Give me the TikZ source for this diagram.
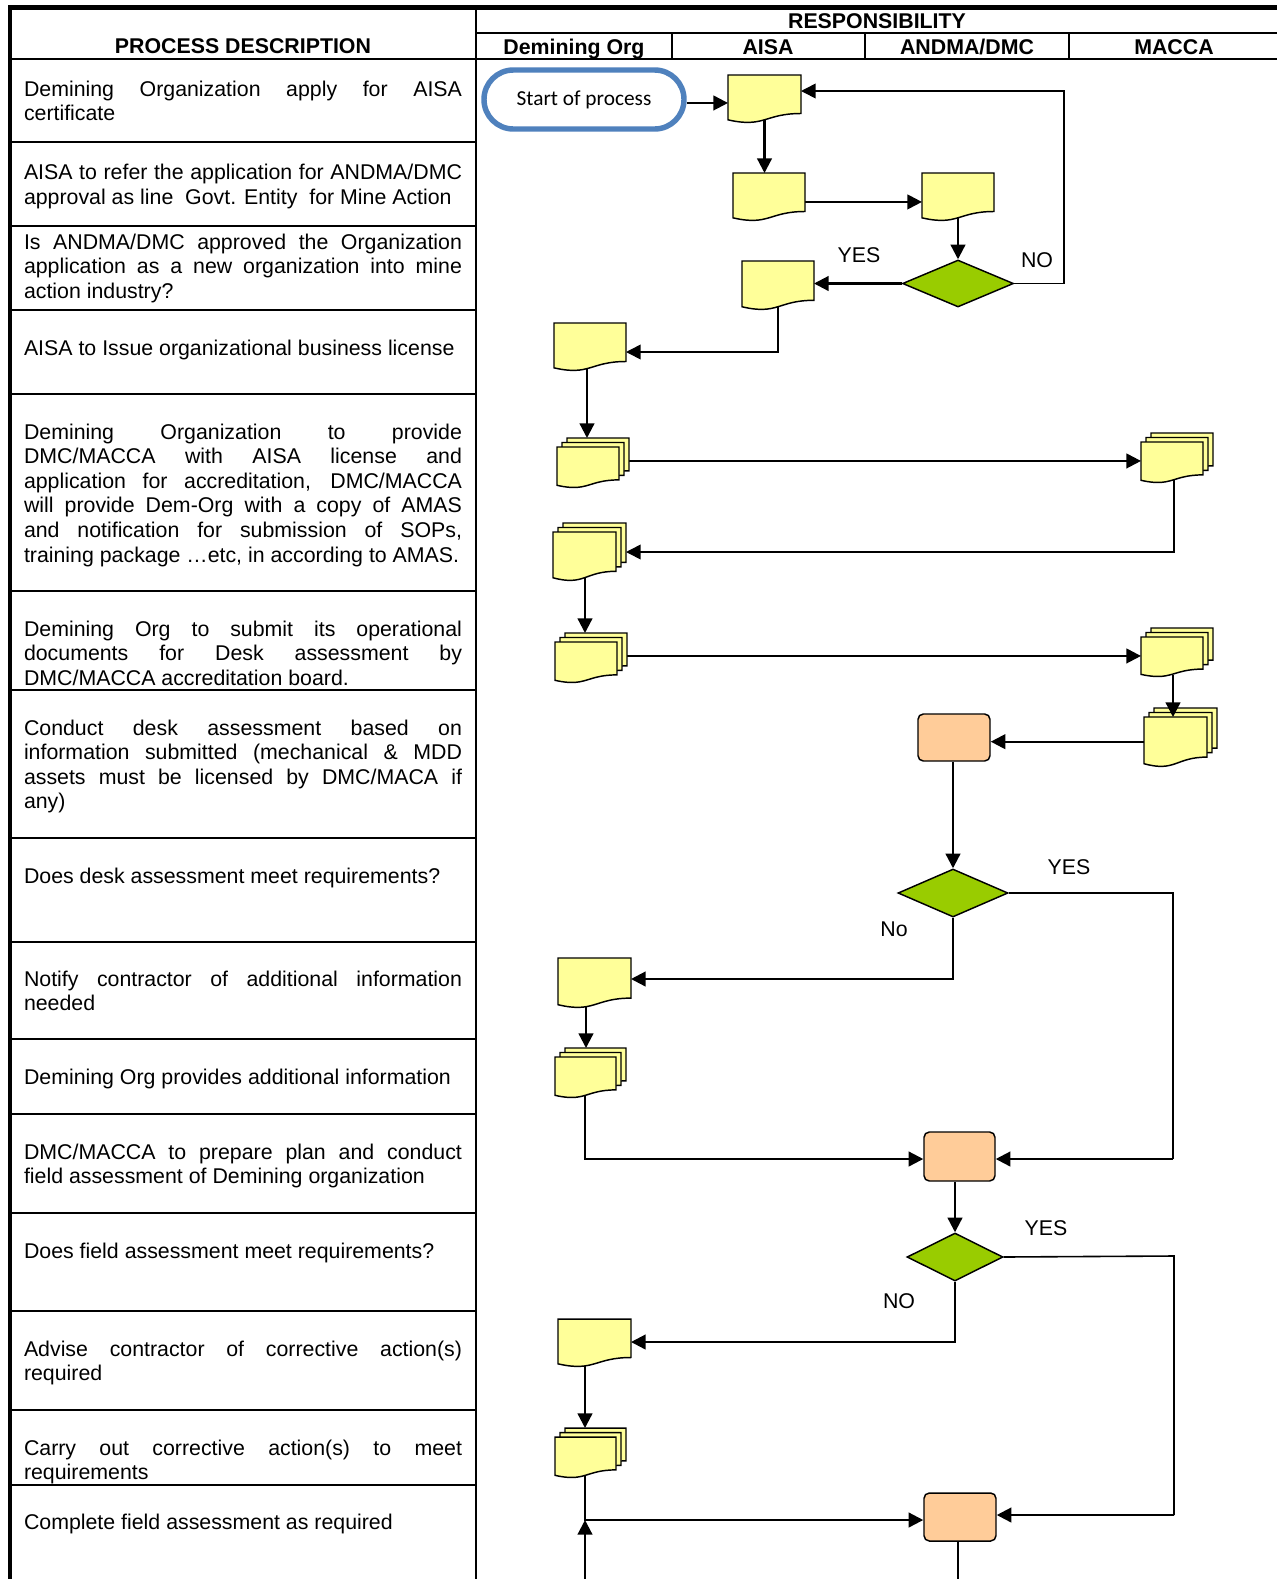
\documentclass[tikz,border=0pt]{standalone}
\usepackage{fontspec}
\setmainfont{Liberation Sans}
\newfontfamily\calib{Carlito}
\usetikzlibrary{shapes.geometric,arrows.meta,calc}
\definecolor{docyel}{HTML}{FFFF99}
\definecolor{decgrn}{HTML}{99CC00}
\definecolor{procor}{HTML}{FFCC99}
\definecolor{termblue}{HTML}{4F81BD}
\pgfdeclarelayer{back}
\pgfsetlayers{back,main}
\newlength\tw \setlength\tw{328.5pt}
\newcommand\jl[1]{\makebox[\tw][s]{#1}}
% document path: x y w h (px, y down)
\newcommand\docpath[4]{%
  \filldraw[docline] ({#1},{#2}) -- ({#1+#3},{#2}) -- ({#1+#3},{#2+0.802*#4})
    .. controls ({#1+0.5*#3},{#2+0.802*#4}) and ({#1+0.5*#3},{#2+1.1075*#4}) .. ({#1},{#2+0.934*#4}) -- cycle;}
\newcommand\docnode[5]{%
  \node[inner sep=0, outer sep=0, minimum width={#4*0.75pt}, minimum height={#5*0.9*0.75pt}, anchor=north west] (#1) at ({#2},{#3}) {};
  \docpath{#2}{#3}{#4}{#5}}
\newcommand\mdocnode[5]{%
  \docpath{#2+10}{#3-9}{#4}{#5}%
  \docpath{#2+5}{#3-4.5}{#4}{#5}%
  \docpath{#2}{#3}{#4}{#5}%
  \node[inner sep=0, outer sep=0, minimum width={(#4+10)*0.75pt}, minimum height={(#5*0.9+9)*0.75pt}, anchor=north west] (#1) at ({#2},{#3-9}) {};}
\begin{document}
\begin{tikzpicture}[x=0.75pt,y=-0.75pt, font=\fontsize{16}{18.45}\selectfont,
  txt/.style={anchor=base west, inner sep=0, outer sep=0},
  hdr/.style={anchor=base, inner sep=0, font=\fontsize{16}{18.45}\selectfont\bfseries},
  lbl/.style={inner sep=0},
  grid/.style={line width=1.1pt},
  docline/.style={fill=docyel, draw=black, line width=1.1pt, line join=miter},
  arr/.style={line width=1.7pt, -{Triangle[length=11pt,width=11pt]}},
  tarr/.style={line width=1.2pt, -{Triangle[length=11pt,width=11pt]}},
  tline/.style={line width=1.2pt},
  mline/.style={line width=1.7pt},
  dec/.style={diamond, draw=black, fill=decgrn, line width=1.1pt, inner sep=0},
  proc/.style={rectangle, rounded corners=4pt, draw=black, fill=procor, line width=1.1pt, inner sep=0}]
\useasboundingbox (0,0) rectangle (1277,1579);
\begin{pgfonlayer}{back}
\fill[white] (0,0) rectangle (1277,1579);
\end{pgfonlayer}
% ---------- table ----------
\draw[line width=3.75pt] (8,7.5) -- (1277,7.5);
\draw[line width=3.4pt] (10,5.5) -- (10,1579);
\draw[grid] (476,8) -- (476,1579);
\draw[grid] (476,33) -- (1277,33);
\draw[grid] (10,59) -- (1277,59);
\foreach \xx in {672,865,1069} \draw[grid] (\xx,33) -- (\xx,59);
\foreach \yy in {142,226,310,394,591,690,838,942,1039,1114,1213,1311,1410,1485}
  \draw[grid] (10,\yy) -- (476,\yy);
% headers
\node[hdr] (hproc) at (243,53.5) {PROCESS DESCRIPTION};
\node[hdr] (hresp) at (877,28) {RESPONSIBILITY};
\node[hdr] (hdem) at (574,54.5) {Demining Org};
\node[hdr] (haisa) at (768,54.5) {AISA};
\node[hdr] (handma) at (967,54.5) {ANDMA/DMC};
\node[hdr] (hmacca) at (1174,54.5) {MACCA};
% row texts
\node[txt] (t1a) at (24,96) {\jl{Demining Organization apply for AISA}};
\node[txt] (t1b) at (24,120.5) {certificate};
\node[txt] (t2a) at (24,179.5) {\jl{AISA to refer the application for ANDMA/DMC}};
\node[txt] (t2b) at (24,204) {approval as line\ \ Govt. Entity\ \ for Mine Action};
\node[txt] (t3a) at (24,249) {\jl{Is ANDMA/DMC approved the Organization}};
\node[txt] (t3b) at (24,273.6) {\jl{application as a new organization into mine}};
\node[txt] (t3c) at (24,298.2) {action industry?};
\node[txt] (t4a) at (24,355) {AISA to Issue organizational business license};
\node[txt] (t5a) at (24,439) {\jl{Demining Organization to provide}};
\node[txt] (t5b) at (24,463.6) {\jl{DMC/MACCA with AISA license and}};
\node[txt] (t5c) at (24,488.2) {\jl{application for accreditation, DMC/MACCA}};
\node[txt] (t5d) at (24,512.8) {\jl{will provide Dem-Org with a copy of AMAS}};
\node[txt] (t5e) at (24,537.4) {\jl{and notification for submission of SOPs,}};
\node[txt] (t5f) at (24,562) {training package …etc, in according to AMAS.};
\node[txt] (t6a) at (24,636) {\jl{Demining Org to submit its operational}};
\node[txt] (t6b) at (24,660.6) {\jl{documents for Desk assessment by}};
\node[txt] (t6c) at (24,685.2) {DMC/MACCA accreditation board.};
\node[txt] (t7a) at (24,735) {\jl{Conduct desk assessment based on}};
\node[txt] (t7b) at (24,759.6) {\jl{information submitted (mechanical \& MDD}};
\node[txt] (t7c) at (24,784.2) {\jl{assets must be licensed by DMC/MACA if}};
\node[txt] (t7d) at (24,808.8) {any)};
\node[txt] (t8a) at (24,883) {Does desk assessment meet requirements?};
\node[txt] (t9a) at (24,986) {\jl{Notify contractor of additional information}};
\node[txt] (t9b) at (24,1010.6) {needed};
\node[txt] (t10a) at (24,1084) {Demining Org provides additional information};
\node[txt] (t11a) at (24,1159) {\jl{DMC/MACCA to prepare plan and conduct}};
\node[txt] (t11b) at (24,1183.6) {field assessment of Demining organization};
\node[txt] (t12a) at (24,1258.5) {Does field assessment meet requirements?};
\node[txt] (t13a) at (24,1356) {\jl{Advise contractor of corrective action(s)}};
\node[txt] (t13b) at (24,1380.6) {required};
\node[txt] (t14a) at (24,1455) {\jl{Carry out corrective action(s) to meet}};
\node[txt] (t14b) at (24,1479.6) {requirements};
\node[txt] (t15a) at (24,1529) {Complete field assessment as required};
% ---------- flowchart shapes ----------
\node[draw=termblue, line width=4.1pt, fill=white, rounded corners=22pt,
  minimum width=200*0.75pt, minimum height=59*0.75pt, inner sep=0,
  font=\calib\fontsize{16}{19}\selectfont] (start) at (584,99.5) {Start of process\hspace{5.5pt}};
\docnode{D1}{728}{75}{73}{48}
\docnode{D2}{733}{173}{72}{48}
\docnode{D3}{922}{173}{72}{48}
\node[dec, minimum width=111*0.75pt, minimum height=47*0.75pt] (dia1) at (958,283.5) {};
\docnode{D4}{742}{261}{72}{49}
\docnode{D5}{554}{323}{72}{48}
\mdocnode{MA}{557}{447}{62}{41}
\mdocnode{MB}{1141}{442}{62}{41}
\mdocnode{MC}{553}{532}{63}{49}
\mdocnode{MD}{555}{642}{62}{41}
\mdocnode{ME}{1141}{637}{62}{40}
\mdocnode{MF}{1144}{717}{63}{50}
\node[proc, minimum width=72*0.75pt, minimum height=47*0.75pt] (R1) at (954,737.5) {};
\node[dec, minimum width=110*0.75pt, minimum height=48*0.75pt] (dia2) at (953,893) {};
\docnode{D6}{558}{958}{73}{50}
\mdocnode{MG}{555}{1057}{61}{41}
\node[proc, minimum width=71*0.75pt, minimum height=49*0.75pt] (R2) at (959.5,1156.5) {};
\node[dec, minimum width=96*0.75pt, minimum height=48*0.75pt] (dia3) at (955,1257) {};
\docnode{D7}{558}{1319}{73}{48}
\mdocnode{MH}{555}{1437}{61}{41}
\node[proc, minimum width=72*0.75pt, minimum height=48*0.75pt] (R3) at (960,1517) {};
% labels
\node[lbl] (yes1) at (859,255) {YES};
\node[lbl] (no1) at (1037,260) {NO};
\node[lbl] (yes2) at (1069,867) {YES};
\node[lbl] (no2) at (894,929) {No};
\node[lbl] (yes3) at (1046,1228) {YES};
\node[lbl] (no3) at (899,1301) {NO};
% arrow drawn over the stacked sheets
\coordinate (cEFa) at (1173,675);
\coordinate (cEF) at (1173,717);
\draw[arr] (cEFa) -- (cEF);
% ---------- connectors ----------
\begin{pgfonlayer}{back}
\coordinate (s1) at ([yshift=-2.6pt]start.east);
\draw[arr] (s1) -- (s1 -| D1.west);
\draw[arr] (D1.center) -- (D1.center |- D2.north);
\coordinate (s3) at ([yshift=-5.5pt]D2.east);
\draw[arr] (s3) -- (s3 -| D3.west);
\draw[arr] (D3.center) -- (D3.center |- dia1.north);
\draw[arr] (dia1.west) -- (dia1.west -| D4.east);
\coordinate (noR) at (1064,283.5);
\coordinate (noT) at (1064,91);
\draw[tarr] (dia1.east) -- (noR) -- (noT) -- (noT -| D1.east);
\coordinate (c45) at (778,352);
\draw[tarr] (D4.center) -- (c45) -- (c45 -| D5.east);
\coordinate (c5a) at (587,0);
\draw[arr] (c5a |- D5.center) -- (c5a |- MA.north);
\draw[arr] (MA.east) -- (MA.east -| MB.west);
\coordinate (cBC) at (1174,552);
\draw[tarr] (cBC |- MB.center) -- (cBC) -- (cBC -| MC.east);
\coordinate (cCD) at (585,0);
\draw[arr] (cCD |- MC.center) -- (cCD |- MD.north);
\draw[arr] (MD.east) -- (MD.east -| ME.west);
\coordinate (s14) at ([yshift=-5pt]MF.west);
\draw[arr] (s14) -- (s14 -| R1.east);
\draw[arr] (dia2.north |- R1.south) -- (dia2.north);
\coordinate (y2a) at (1173,893);
\coordinate (y2b) at (1173,1159);
\draw[tline] (dia2.east) -- (y2a) -- (y2b);
\draw[arr] (y2b) -- (y2b -| R2.east);
\coordinate (n2) at (953,979);
\draw[arr] (dia2.south) -- (n2) -- (n2 -| D6.east);
\coordinate (c6) at (586,0);
\draw[arr] (c6 |- D6.center) -- (c6 |- MG.north);
\coordinate (g2) at (585,1159);
\draw[arr] (g2 |- MG.center) -- (g2) -- (g2 -| R2.west);
\draw[arr] (dia3.north |- R2.south) -- (dia3.north);
\coordinate (y3a) at (1174,1256);
\coordinate (y3b) at (1174,1515);
\draw[tline] (dia3.east) -- (y3a) -- (y3b);
\draw[arr] (y3b) -- (y3b -| R3.east);
\coordinate (n3) at (955,1342);
\draw[arr] (dia3.south) -- (n3) -- (n3 -| D7.east);
\coordinate (c7) at (585,0);
\draw[arr] (c7 |- D7.center) -- (c7 |- MH.north);
\coordinate (h3) at (585,1520);
\draw[arr] (h3 |- MH.center) -- (h3) -- (h3 -| R3.west);
\coordinate (bot1) at (585,1579);
\draw[arr] (bot1) -- (h3);
\coordinate (bot2) at (958,1579);
\draw[mline] (bot2 |- R3.center) -- (bot2);
\end{pgfonlayer}
\end{tikzpicture}
\end{document}
